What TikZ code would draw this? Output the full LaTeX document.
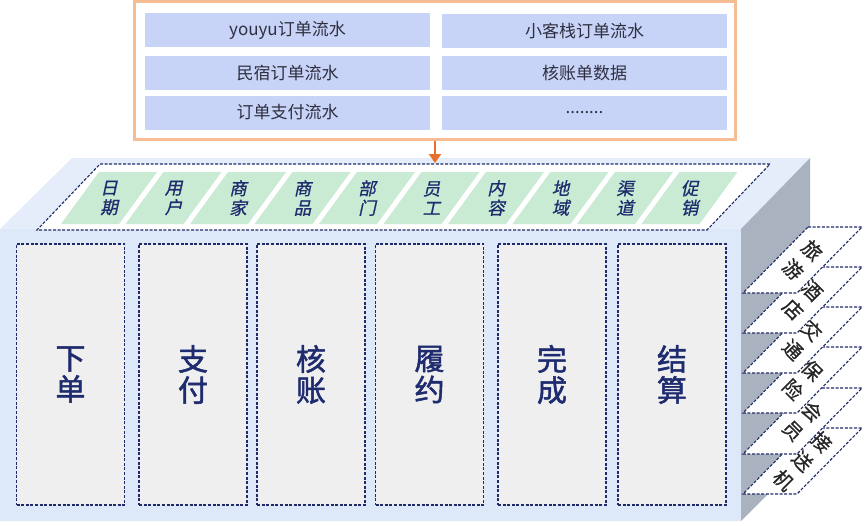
\documentclass[tikz,border=0pt]{standalone}
\usepackage{fontspec}
\setmainfont{Noto Sans CJK SC}
\newfontfamily\cjkslant[FakeSlant=0.22,FakeBold=0.8]{Noto Sans CJK SC}
\newfontfamily\cjkheavy[FakeBold=1.6]{Noto Sans CJK SC}
\newfontfamily\cjkmid[FakeBold=0.6]{Noto Sans CJK SC}
\usetikzlibrary{arrows.meta}
\definecolor{frontc}{HTML}{DDE9F8}
\definecolor{topc}{HTML}{E4EDF9}
\definecolor{sidec}{HTML}{A9B2BE}
\definecolor{navy}{HTML}{1F2A6B}
\definecolor{orangeb}{HTML}{F6BC94}
\definecolor{orangea}{HTML}{E8702A}
\definecolor{cellblue}{HTML}{C7D3F7}
\definecolor{greenc}{HTML}{C9EBD3}
\definecolor{colgray}{HTML}{EFEFEF}
\definecolor{textdark}{HTML}{2E2F40}
\definecolor{coltext}{HTML}{1E2B6E}
\begin{document}
\begin{tikzpicture}[x=1pt,y=-1pt,
  dashline/.style={draw=navy, line width=1.1pt, dash pattern=on 3pt off 1.6pt},
  bcell/.style={fill=cellblue, minimum width=285pt, minimum height=34pt, inner sep=0pt,
    text=textdark, font=\fontsize{17}{20}\selectfont},
  colbox/.style={dashline, fill=colgray, minimum width=108pt, minimum height=261pt,
    align=center, text=coltext, font=\cjkheavy\fontsize{30}{31}\selectfont},
  gtext/.style={align=center, text=coltext, font=\cjkslant\fontsize{17.5}{19.5}\selectfont, inner sep=0pt},
  sidetext/.style={align=center, text=black!85, rotate=-45, inner sep=0pt,
    font=\cjkmid\fontsize{19.5}{27}\selectfont},
  orangearrow/.style={draw=orangea, line width=2.2pt, -{Triangle[width=12pt,length=9pt]}}
]
\useasboundingbox (0,0) rectangle (865,525);
% 3D box
\fill[topc] (72,158) -- (810,158) -- (741,229) -- (0,229) -- cycle;
\fill[frontc] (0,229) rectangle (741,521);
\fill[sidec] (741,229) -- (810,158) -- (810,452) -- (741,521) -- cycle;
% dimension strip
\draw[dashline, fill=white] (100,164) -- (770,164) -- (707,230) -- (37,230) -- cycle;
\foreach \a/\b [count=\i from 0] in {日/期,用/户,商/家,商/品,部/门,员/工,内/容,地/域,渠/道,促/销}{
  \pgfmathsetmacro\cx{109+64.5*\i}
  \fill[greenc] (\cx-48,224) -- (\cx+10,224) -- (\cx+48,172) -- (\cx-10,172) -- cycle;
  \node[gtext] (g\i) at (\cx,198) {\a\\\b};
}
\coordinate (striptop) at (435,163);
% columns
\node[colbox] (c1) at (70.5,374.5) {下\\单};
\node[colbox] (c2) at (193,374.5) {支\\付};
\node[colbox] (c3) at (311,374.5) {核\\账};
\node[colbox] (c4) at (429.5,374.5) {履\\约};
\node[colbox] (c5) at (552,374.5) {完\\成};
\node[colbox] (c6) at (672,374.5) {结\\算};
% top source box
\node[draw=orangeb, line width=3pt, fill=white, minimum width=601pt, minimum height=138pt] (topbox) at (435,70.5) {};
\node[bcell] (s1) at (287.5,30) {youyu订单流水};
\node[bcell] (s2) at (584.5,31) {小客栈订单流水};
\node[bcell] (s3) at (287.5,73) {民宿订单流水};
\node[bcell] (s4) at (584.5,73) {核账单数据};
\node[bcell] (s5) at (287.5,112.5) {订单支付流水};
\node[bcell] (s6) at (584.5,113) {........};
\draw[orangearrow] (topbox.south) -- (striptop);
% side labels (bottom first, top drawn last)
\newcommand\sidelabel[3]{%
  \draw[dashline, fill=white] (808,#2) -- (862,#2) -- (797,#2+66) -- (743,#2+66) -- cycle;
  \node[sidetext] (#1) at (802.5,#2+33) {#3};}
\sidelabel{p6}{428}{接\\送\\机}
\sidelabel{p5}{388}{会\\员}
\sidelabel{p4}{347}{保\\险}
\sidelabel{p3}{307}{交\\通}
\sidelabel{p2}{267}{酒\\店}
\sidelabel{p1}{227}{旅\\游}
\end{tikzpicture}
\end{document}
